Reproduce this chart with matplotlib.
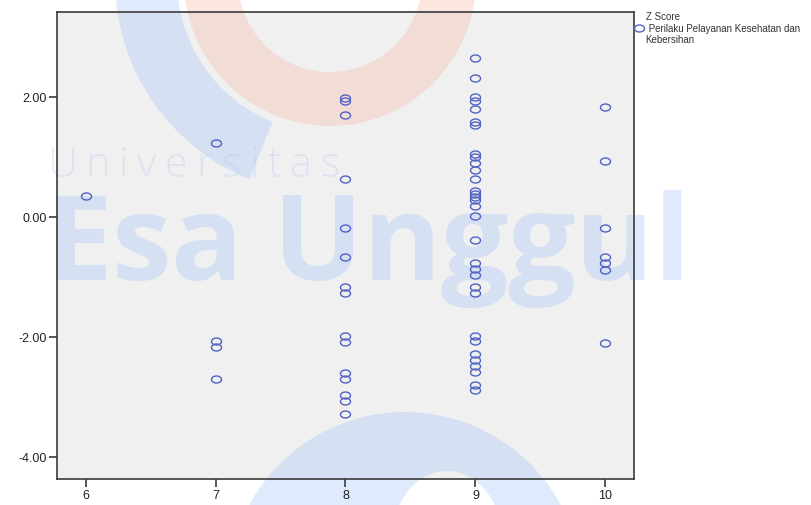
import numpy as np
import matplotlib
matplotlib.use("Agg")
import matplotlib.pyplot as plt
from matplotlib.path import Path
from matplotlib.patches import Wedge, PathPatch, Rectangle

plt.rcParams["font.family"] = ["Liberation Sans", "DejaVu Sans"]
plt.rcParams["axes.unicode_minus"] = False

# x groups and the z scores
groups = [6, 7, 8, 9, 10]
z_6 = [0.34]
z_7 = [1.22, -2.08, -2.18, -2.70]
z_8 = [1.97, 1.92, 1.69, 0.63, -0.19, -0.68, -1.18, -1.28, -1.99, -2.09,
       -2.60, -2.70, -2.98, -3.08, -3.29]
z_9 = [2.65, 2.31, 2.00, 1.92, 1.80, 1.57, 1.52, 1.05, 0.99, 0.90, 0.78,
       0.63, 0.43, 0.37, 0.33, 0.28, 0.17, 0.01, -0.39, -0.78, -0.88, -0.98,
       -1.18, -1.28, -1.99, -2.08, -2.29, -2.39, -2.49, -2.59, -2.80, -2.89]
z_10 = [1.83, 0.92, -0.19, -0.67, -0.78, -0.89, -2.10]
z_groups = [z_6, z_7, z_8, z_9, z_10]

y_ticks = [-4.0, -2.0, 0.0, 2.0]
legend_label = "Z Score\n Perilaku Pelayanan Kesehatan dan\nKebersihan"

W, H = 811, 506
ring_color = "#5162c4"
wm_blue = "#9fc0fa"
wm_salmon = "#f7bca6"

fig = plt.figure(figsize=(W / 100, H / 100), dpi=100)

# background layer in pixel coords: plot area fill + watermark
bg = fig.add_axes([0, 0, 1, 1], zorder=-1)
bg.set_xlim(0, W)
bg.set_ylim(H, 0)
bg.axis("off")
ax_l, ax_t, ax_r, ax_b = 57, 13, 634, 480
bg.add_patch(Rectangle((ax_l, ax_t), ax_r - ax_l, ax_b - ax_t,
                       fc="#f0f0f0", ec="none", zorder=0))

bg.add_patch(Wedge((330, -19), 146, 0, 180, width=54, fc=wm_salmon,
                   ec="none", alpha=0.35, zorder=1))
bg.add_patch(Wedge((330, -19), 215, 112, 178, width=62, fc=wm_blue,
                   ec="none", alpha=0.33, zorder=1))

t = np.linspace(0, 2 * np.pi, 200)
outer = np.column_stack([405 + 177 * np.cos(t), 590 + 177 * np.sin(t)])
inner = np.column_stack([447 + 55 * np.cos(t), 540 + 68 * np.sin(t)])[::-1]
verts = np.vstack([outer, inner])
codes = ([Path.MOVETO] + [Path.LINETO] * (len(outer) - 1)
         + [Path.MOVETO] + [Path.LINETO] * (len(inner) - 1))
bg.add_patch(PathPatch(Path(verts, codes), fc=wm_blue, ec="none",
                       alpha=0.33, zorder=1))

renderer = fig.canvas.get_renderer()


def spaced_text(s, x0, base, total, **kw):
    arts = []
    for ch in s:
        arts.append(bg.text(0, base, ch, va="baseline", ha="left", **kw))
    widths = [a.get_window_extent(renderer).width for a in arts]
    track = (total - sum(widths)) / max(len(s) - 1, 1)
    x = x0
    for a, w in zip(arts, widths):
        a.set_x(x)
        x += w + track


spaced_text("Universitas", 47, 177, 293, family="Open Sans", fontsize=30,
            weight="light", color=wm_blue, alpha=0.25, zorder=2)
spaced_text("Esa Unggul", 45, 280, 645, family="Open Sans", fontsize=86,
            weight="bold", color=wm_blue, alpha=0.33, zorder=2)

# main scatter axes
ax = fig.add_axes([ax_l / W, 1 - ax_b / H, (ax_r - ax_l) / W, (ax_b - ax_t) / H],
                  zorder=1)
ax.set_facecolor("none")

tt = np.linspace(0, 2 * np.pi, 40)
ring_marker = Path(np.column_stack([np.cos(tt), 0.7 * np.sin(tt)]), closed=True)

xs = np.concatenate([np.full(len(z), g) for g, z in zip(groups, z_groups)])
zs = np.concatenate(z_groups)
pts, = ax.plot(xs, zs, ls="none", marker=ring_marker, ms=7.2, mfc="none",
               mec=ring_color, mew=1.0)

ax.set_xlim(5.78, 10.22)
ax.set_ylim(-4.375, 3.41)
ax.set_xticks(groups)
ax.set_xticklabels([str(g) for g in groups])
ax.set_yticks(y_ticks)
ax.set_yticklabels([f"{v:.2f}" for v in y_ticks])
ax.tick_params(direction="out", length=5.5, width=1.2, color="#3a3a3a",
               labelsize=9, pad=2, labelcolor="#222222")
for sp in ax.spines.values():
    sp.set_color("#3a3a3a")
    sp.set_linewidth(1.2)

fig.legend([pts], [legend_label], loc="upper left",
           bbox_to_anchor=(634 / W, 1 - 12 / H), frameon=False, fontsize=7,
           handlelength=1.0, handletextpad=0.2, borderpad=0, borderaxespad=0,
           labelspacing=0.3, labelcolor="#333333")

fig.savefig("out.png", dpi=100)
